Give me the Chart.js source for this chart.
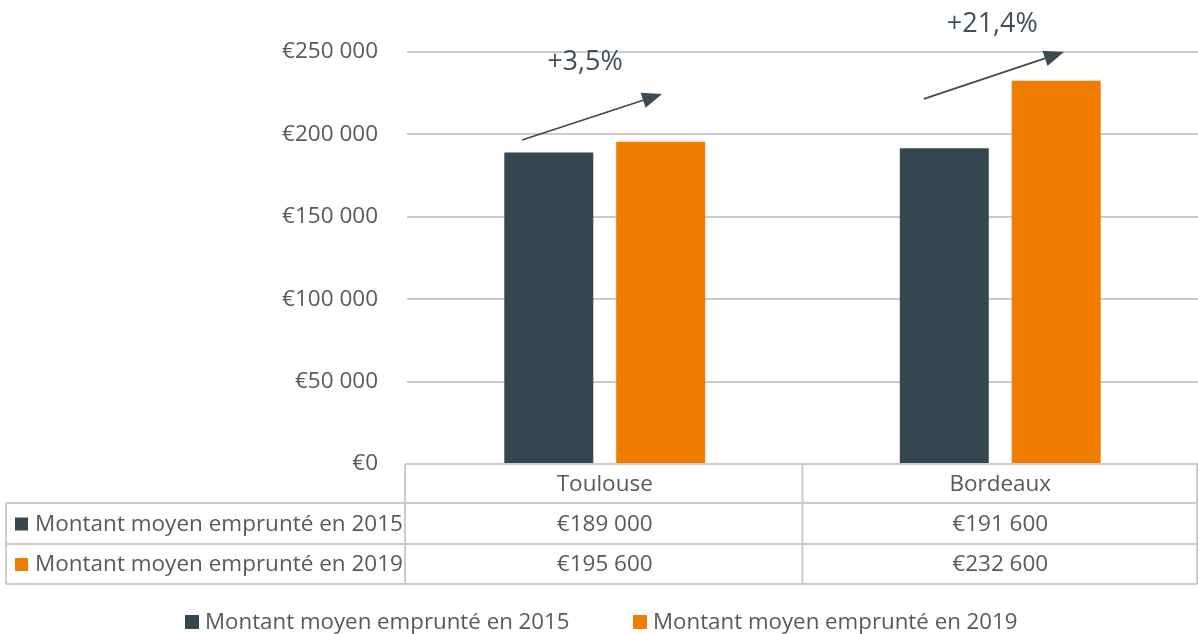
<!DOCTYPE html>
<html>
<head>
<meta charset="utf-8">
<script src="https://cdn.jsdelivr.net/npm/chart.js@4"></script>
<style>
  html, body { margin: 0; padding: 0; background: #fff; }
  #wrap { width: 1198px; height: 634px; }
</style>
</head>
<body>
<div id="wrap"><canvas id="Graph" width="1198" height="634"></canvas></div>
<script>
// Data
var villes = ['Toulouse', 'Bordeaux'];
var montant2015 = [189000, 191600];
var montant2019 = [195600, 232600];
var seriesLabels = ['Montant moyen emprunté en 2015', 'Montant moyen emprunté en 2019'];
var evolutions = ['+3,5%', '+21,4%'];
var yMax = 250000;
var yStep = 50000;

var couleurSombre = '#37474f';
var couleurOrange = '#f07d00';
var gris = '#595959';
var ligne = '#cccccc';
var police = '"Open Sans", "Liberation Sans", sans-serif';

function euro(v) {
  return '€' + String(v).replace(/\B(?=(\d{3})+(?!\d))/g, ' ');
}

// arrows and percentages, placed in data space (category index, value)
var fleches = [
  { from: [-0.209, 196600], to: [0.145, 224500], label: [-0.05, 243500] },
  { from: [0.807, 221500], to: [1.161, 250000], label: [0.98, 267000] }
];

var tablePlugin = {
  id: 'tableau',
  afterDraw: function(chart) {
    var ctx = chart.ctx;
    var area = chart.chartArea;
    var x = chart.scales.x;
    var half = (area.right - area.left) / villes.length / 2;
    var rows = [area.bottom, area.bottom + 39, area.bottom + 80, area.bottom + 120];
    var left = 6, right = chart.width - 1;
    ctx.save();
    ctx.strokeStyle = ligne;
    ctx.lineWidth = 2;
    ctx.beginPath();
    ctx.moveTo(area.left - 2, rows[0]); ctx.lineTo(right, rows[0]);
    for (var r = 1; r < rows.length; r++) {
      ctx.moveTo(left, rows[r]); ctx.lineTo(right, rows[r]);
    }
    ctx.moveTo(left, rows[1]); ctx.lineTo(left, rows[3]);
    ctx.moveTo(area.left - 2, rows[0]); ctx.lineTo(area.left - 2, rows[3]);
    for (var i = 0; i < villes.length; i++) {
      var xr = i === villes.length - 1 ? right : x.getPixelForValue(i) + half;
      ctx.moveTo(xr, rows[0]); ctx.lineTo(xr, rows[3]);
    }
    ctx.stroke();

    ctx.fillStyle = gris;
    ctx.font = '22.5px ' + police;
    ctx.textAlign = 'center';
    ctx.textBaseline = 'middle';
    var series = [montant2015, montant2019];
    for (var i = 0; i < villes.length; i++) {
      var cx = x.getPixelForValue(i);
      ctx.fillText(villes[i], cx, (rows[0] + rows[1]) / 2 + 1);
      for (var s = 0; s < series.length; s++) {
        ctx.fillText(euro(series[s][i]), cx, (rows[s + 1] + rows[s + 2]) / 2 + 1);
      }
    }
    var cols = [couleurSombre, couleurOrange];
    ctx.textAlign = 'left';
    for (var s = 0; s < seriesLabels.length; s++) {
      var cy = (rows[s + 1] + rows[s + 2]) / 2;
      ctx.fillStyle = cols[s];
      ctx.fillRect(15, cy - 6, 13, 13);
      ctx.fillStyle = gris;
      ctx.fillText(seriesLabels[s], 35, cy + 1);
    }

    // legend at the bottom
    var ly = 622;
    var lx = [185, 633];
    ctx.font = '22.3px ' + police;
    for (var s = 0; s < seriesLabels.length; s++) {
      ctx.fillStyle = cols[s];
      ctx.fillRect(lx[s], ly - 7, 14, 14);
      ctx.fillStyle = gris;
      ctx.fillText(seriesLabels[s], lx[s] + 20, ly + 1);
    }
    ctx.restore();
  }
};

var arrowPlugin = {
  id: 'fleches',
  afterDatasetsDraw: function(chart) {
    var ctx = chart.ctx;
    var x = chart.scales.x, y = chart.scales.y;
    var catW = (chart.chartArea.right - chart.chartArea.left) / villes.length;
    function px(p) {
      var i = Math.round(p[0]);
      return [x.getPixelForValue(i) + (p[0] - i) * catW, y.getPixelForValue(p[1])];
    }
    ctx.save();
    fleches.forEach(function(f, k) {
      var a = px(f.from), b = px(f.to);
      var ang = Math.atan2(b[1] - a[1], b[0] - a[0]);
      var head = 20, w = 8;
      var bx = b[0] - head * Math.cos(ang), by = b[1] - head * Math.sin(ang);
      ctx.strokeStyle = '#3d4b55';
      ctx.fillStyle = '#3d4b55';
      ctx.lineWidth = 1.8;
      ctx.beginPath();
      ctx.moveTo(a[0], a[1]);
      ctx.lineTo(bx, by);
      ctx.stroke();
      ctx.beginPath();
      ctx.moveTo(b[0], b[1]);
      ctx.lineTo(bx + w * Math.sin(ang), by - w * Math.cos(ang));
      ctx.lineTo(bx - w * Math.sin(ang), by + w * Math.cos(ang));
      ctx.closePath();
      ctx.fill();
      var l = px(f.label);
      ctx.fillStyle = '#404f5a';
      ctx.font = '27px ' + police;
      ctx.textAlign = 'center';
      ctx.textBaseline = 'middle';
      ctx.fillText(evolutions[k], l[0], l[1]);
    });
    ctx.restore();
  }
};

var twoDRep = document.getElementById('Graph').getContext('2d');
var chart = new Chart(twoDRep, {
  type: 'bar',
  data: {
    labels: villes,
    datasets: [{
      label: seriesLabels[0],
      data: montant2015,
      backgroundColor: couleurSombre,
      barPercentage: 0.795,
      categoryPercentage: 0.566
    }, {
      label: seriesLabels[1],
      data: montant2019,
      backgroundColor: couleurOrange,
      barPercentage: 0.795,
      categoryPercentage: 0.566
    }]
  },
  options: {
    responsive: false,
    animation: false,
    layout: { padding: { top: 52, bottom: 170, left: 0, right: 0 } },
    plugins: { legend: { display: false }, tooltip: { enabled: false } },
    scales: {
      x: { display: false },
      y: {
        min: 0,
        max: yMax,
        afterFit: function(s) { s.width = 407; },
        border: { display: false },
        grid: { color: ligne, lineWidth: 2, drawTicks: false },
        ticks: {
          stepSize: yStep,
          padding: 29,
          color: gris,
          font: { family: police, size: 22.5 },
          callback: function(v) { return euro(v); }
        }
      }
    }
  },
  plugins: [tablePlugin, arrowPlugin]
});
</script>
</body>
</html>
